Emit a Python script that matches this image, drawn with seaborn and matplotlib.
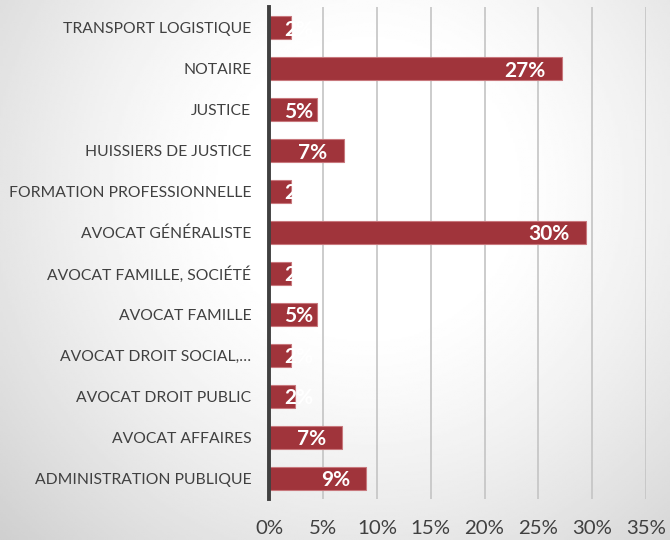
import numpy as np
import seaborn as sns
from matplotlib import pyplot as plt

''' Données '''
categories = ["TRANSPORT LOGISTIQUE", "NOTAIRE", "JUSTICE", "HUISSIERS DE JUSTICE",
              "FORMATION PROFESSIONNELLE", "AVOCAT GÉNÉRALISTE", "AVOCAT FAMILLE, SOCIÉTÉ",
              "AVOCAT FAMILLE", "AVOCAT DROIT SOCIAL,…", "AVOCAT DROIT PUBLIC",
              "AVOCAT AFFAIRES", "ADMINISTRATION PUBLIQUE"]
values = [2.0, 27.2, 4.45, 6.9, 2.0, 29.4, 2.0, 4.45, 2.0, 2.35, 6.75, 9.0]
labels = ["2%", "27%", "5%", "7%", "2%", "30%", "2%", "5%", "2%", "2%", "7%", "9%"]
xticks = [0, 5, 10, 15, 20, 25, 30, 35]

sns.set_style("white")
plt.rcParams['font.family'] = ['Lato', 'DejaVu Sans']

fig = plt.figure(figsize = (6.7, 5.4), dpi = 100)

''' Fond en dégradé radial '''
bg = fig.add_axes([0, 0, 1, 1], zorder = -1)
yy, xx = np.mgrid[0:1:300j, 0:1:300j]
r = np.sqrt(((xx - 0.55) * 1.24) ** 2 + (yy - 0.35) ** 2)
grad = 1 - 0.19 * np.clip((r - 0.25) / 0.7, 0, 1) ** 1.3
bg.imshow(grad, cmap = "gray", vmin = 0, vmax = 1, aspect = "auto", extent = [0, 1, 1, 0])
bg.axis("off")

ax = fig.add_axes([0.402, 0.076, 0.562, 0.911])
ax.set_facecolor("none")

sns.barplot(x = values, y = categories, orient = "h", color = "#A0343B", saturation = 1,
            width = 0.57, edgecolor = "#C8787D", linewidth = 0.8, ax = ax, zorder = 3)

for i, v in enumerate(values):
       ax.text(max(v - 1.5, 4.1), i, labels[i], color = "white", fontsize = 15,
               fontweight = "bold", ha = "right", va = "center_baseline", zorder = 4)

ax.set_xlim(0, 35)
ax.set_xticks(xticks)
ax.set_xticklabels([f"{t}%" for t in xticks])
ax.set_ylim(11.5, -0.5)
ax.grid(axis = "x", color = "#c4c4c4", linewidth = 1.2, zorder = 0)
ax.set_axisbelow(True)
for s in ["top", "right", "bottom"]:
       ax.spines[s].set_visible(False)
ax.spines["left"].set_color("#404040")
ax.spines["left"].set_linewidth(2.8)
ax.spines["left"].set_zorder(5)
ax.tick_params(axis = "x", length = 0, pad = 15, labelsize = 14.7, labelcolor = "#404040")
ax.tick_params(axis = "y", length = 0, pad = 13, labelsize = 11.35, labelcolor = "#404040")
ax.set(xlabel = "", ylabel = "")

fig.savefig("out.png", dpi = 100)
